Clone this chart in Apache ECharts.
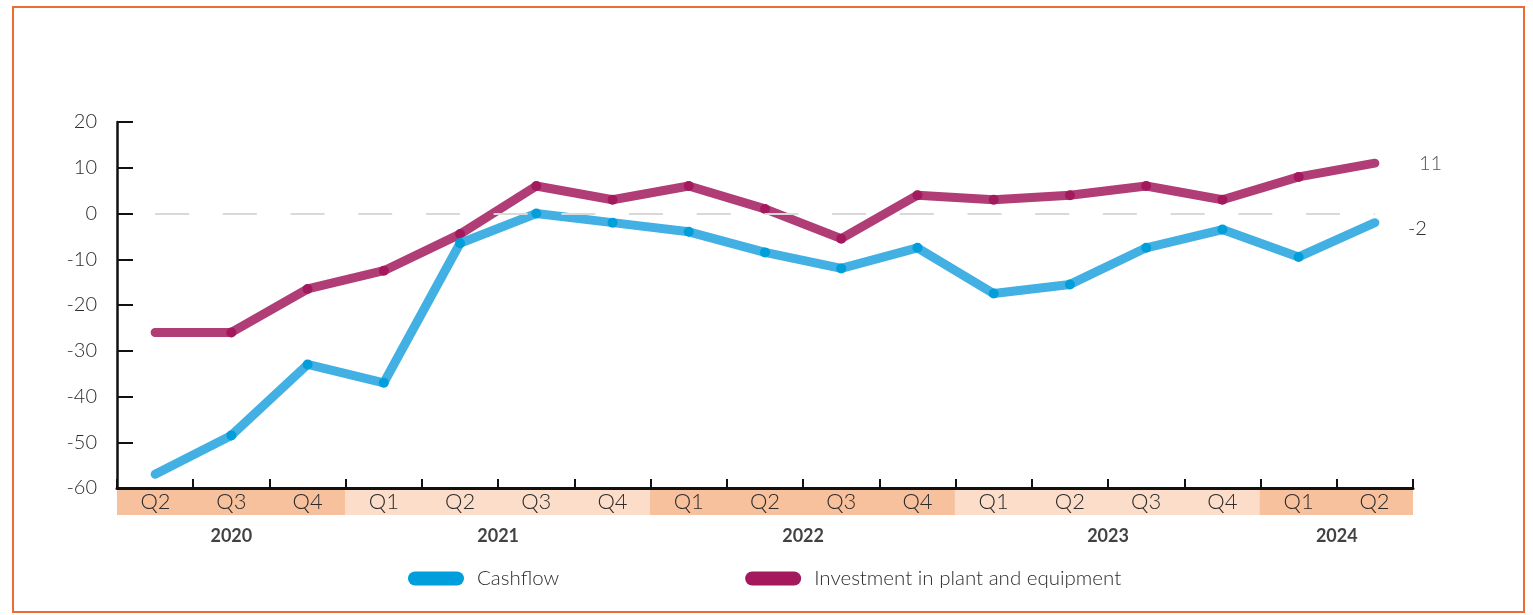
<!DOCTYPE html>
<html>
<head>
<meta charset="utf-8">
<script src="https://cdn.jsdelivr.net/npm/echarts@6/dist/echarts.min.js"></script>
<style>
  html, body { margin: 0; padding: 0; background: #ffffff; }
  #chart { width: 1533px; height: 615px; }
</style>
</head>
<body>
<div id="chart"></div>
<script>
// Quarterly balances, Q2 2020 – Q2 2024
const quarters = ['Q2', 'Q3', 'Q4', 'Q1', 'Q2', 'Q3', 'Q4', 'Q1', 'Q2', 'Q3', 'Q4', 'Q1', 'Q2', 'Q3', 'Q4', 'Q1', 'Q2'];
const years = ['2020', '2020', '2020', '2021', '2021', '2021', '2021', '2022', '2022', '2022', '2022', '2023', '2023', '2023', '2023', '2024', '2024'];
const cashflow = [-57, -48.5, -33, -37, -6.5, 0, -2, -4, -8.5, -12, -7.5, -17.5, -15.5, -7.5, -3.5, -9.5, -2];
const investment = [-26, -26, -16.5, -12.5, -4.5, 6, 3, 6, 1, -5.5, 4, 3, 4, 6, 3, 8, 11];
const yTicks = { min: -60, max: 20, step: 10 };
const seriesNames = ['Cashflow', 'Investment in plant and equipment'];

const categories = quarters.map((q, i) => years[i] + ' ' + q);

// Year groups: midpoint (in category units) of the quarters each year spans
const yearGroups = [];
years.forEach((y, i) => {
  let g = yearGroups.find(o => o.year === y);
  if (!g) { g = { year: y, first: i, last: i }; yearGroups.push(g); }
  g.last = i;
});
const yearMarks = yearGroups.map(g => [(g.first + g.last + 1) / 2, 0.5, g.year]);
const bandColor = y => (yearGroups.findIndex(g => g.year === y) % 2 === 0 ? '#F8C19D' : '#FCDDC9');

const FONT = 'Lato, "Open Sans", sans-serif';
const INK = '#2b2b2b';
const last = quarters.length - 1;
const dotSize = (v, p) => (p.dataIndex === 0 || p.dataIndex === last ? 0 : 10);

const chart = echarts.init(document.getElementById('chart'), null, { renderer: 'canvas' });

chart.setOption({
  backgroundColor: '#ffffff',
  animation: false,
  textStyle: { fontFamily: FONT },
  graphic: [{
    type: 'rect',
    shape: { x: 13, y: 7, width: 1511, height: 605 },
    style: { fill: 'none', stroke: '#EC6C34', lineWidth: 2 },
    silent: true
  }],
  legend: {
    data: seriesNames,
    left: 403,
    top: 563,
    itemWidth: 56,
    itemHeight: 14,
    itemGap: 186,
    icon: 'path://M7,0 H49 A7,7 0 0 1 49,14 H7 A7,7 0 0 1 7,0 Z',
    textStyle: { fontFamily: FONT, fontSize: 20.5, fontWeight: 300, color: INK, padding: [0, 0, 0, 8] }
  },
  grid: [
    { left: 117, right: 120, top: 122, height: 366 },
    { left: 117, right: 120, top: 488, height: 27 },
    { left: 117, right: 120, top: 522, height: 28 }
  ],
  xAxis: [
    {
      gridIndex: 0, type: 'category', data: categories, boundaryGap: true,
      axisLine: { show: true, onZero: false, lineStyle: { color: '#111', width: 3 } },
      axisTick: { show: true, inside: true, length: 9, lineStyle: { color: '#111', width: 2 } },
      axisLabel: { show: false },
      splitLine: { show: false },
      z: 5
    },
    {
      gridIndex: 1, type: 'category', data: categories, boundaryGap: true,
      axisLine: { show: false }, axisTick: { show: false }, axisLabel: { show: false }
    },
    {
      gridIndex: 2, type: 'value', min: 0, max: quarters.length,
      show: false
    }
  ],
  yAxis: [
    {
      gridIndex: 0, type: 'value', min: yTicks.min, max: yTicks.max, interval: yTicks.step,
      axisLine: { show: true, lineStyle: { color: '#111', width: 2.5 } },
      axisTick: { show: true, inside: true, length: 16, lineStyle: { color: '#111', width: 2 } },
      axisLabel: { margin: 20, fontFamily: FONT, fontSize: 20, fontWeight: 300, color: INK },
      splitLine: { show: false },
      z: 5
    },
    { gridIndex: 1, type: 'value', min: 0, max: 1, show: false },
    { gridIndex: 2, type: 'value', min: 0, max: 1, show: false }
  ],
  series: [
    {
      name: seriesNames[1],
      type: 'line',
      xAxisIndex: 0, yAxisIndex: 0,
      data: investment,
      symbol: 'circle',
      symbolSize: dotSize,
      showAllSymbol: true,
      itemStyle: { color: '#A4195E' },
      lineStyle: { color: '#B03D76', width: 9, cap: 'round', join: 'round' },
      endLabel: {
        show: true, formatter: p => String(p.value), distance: 44, offset: [0, 0],
        fontFamily: FONT, fontSize: 20, fontWeight: 300, color: '#555'
      },
      markLine: {
        silent: true, symbol: 'none', label: { show: false },
        lineStyle: { color: '#D9D9D9', width: 2, type: [34, 33.7] },
        data: [[{ coord: [0, 0] }, { coord: [last, 0] }]]
      },
      z: 3
    },
    {
      name: seriesNames[0],
      type: 'line',
      xAxisIndex: 0, yAxisIndex: 0,
      data: cashflow,
      symbol: 'circle',
      symbolSize: dotSize,
      showAllSymbol: true,
      itemStyle: { color: '#009FDB' },
      lineStyle: { color: '#42B0E3', width: 9, cap: 'round', join: 'round' },
      endLabel: {
        show: true, formatter: p => String(p.value), distance: 33, offset: [0, 6],
        fontFamily: FONT, fontSize: 20, fontWeight: 300, color: INK
      },
      z: 4
    },
    {
      // quarter band under the time axis (slight overlap hides seams between cells)
      type: 'bar',
      xAxisIndex: 1, yAxisIndex: 1,
      data: quarters.map((q, i) => ({ value: 1, itemStyle: { color: bandColor(years[i]) } })),
      barWidth: '102%',
      barCategoryGap: '0%',
      silent: true,
      label: {
        show: true, position: 'inside',
        formatter: p => quarters[p.dataIndex],
        fontFamily: FONT, fontSize: 22, fontWeight: 300, color: INK
      }
    },
    {
      // year captions centred under each group of quarters
      type: 'scatter',
      xAxisIndex: 2, yAxisIndex: 2,
      data: yearMarks,
      symbolSize: 0,
      silent: true,
      label: {
        show: true, position: 'inside',
        formatter: p => p.value[2],
        fontFamily: FONT, fontSize: 18, fontWeight: 'bold', color: '#111'
      }
    }
  ]
});
</script>
</body>
</html>
